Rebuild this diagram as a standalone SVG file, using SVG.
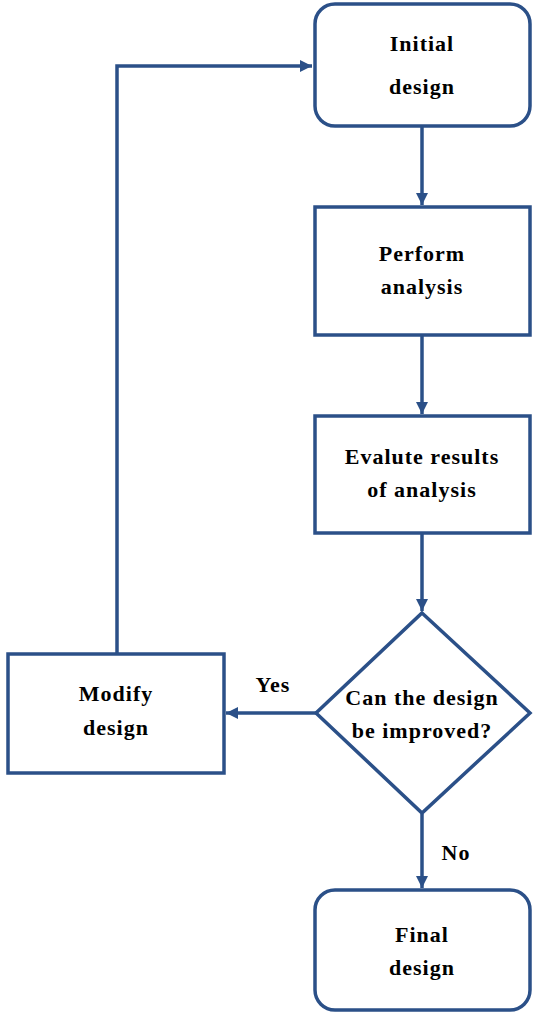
<svg xmlns="http://www.w3.org/2000/svg" width="533" height="1014" viewBox="0 0 533 1014">
<style>
.n{fill:#fff;stroke:#2b5088;stroke-width:3.5}
.c{fill:none;stroke:#2b5088;stroke-width:3.5}
text{font-family:"Liberation Serif","Times New Roman",serif;font-weight:bold;font-size:22px;fill:#000;text-anchor:middle;letter-spacing:1px}
</style>
<defs>
<marker id="a" viewBox="0 0 10 10" refX="10" refY="5" markerWidth="12" markerHeight="13" markerUnits="userSpaceOnUse" orient="auto">
<path d="M0,0L10,5L0,10z" fill="#2b5088"/>
</marker>
</defs>
<g id="connectors">
<path class="c" d="M422,127V205" marker-end="url(#a)"/>
<path class="c" d="M422,335V414" marker-end="url(#a)"/>
<path class="c" d="M422,533V611" marker-end="url(#a)"/>
<path class="c" d="M316,713H226" marker-end="url(#a)"/>
<path class="c" d="M117,653V66H312" marker-end="url(#a)"/>
<path class="c" d="M422,814V888" marker-end="url(#a)"/>
<text x="273" y="692">Yes</text>
<text x="456" y="860">No</text>
</g>
<g id="initial">
<rect class="n" x="315" y="4" width="215" height="122" rx="20"/>
<text x="422" y="51">Initial</text>
<text x="422" y="94">design</text>
</g>
<g id="perform">
<rect class="n" x="315" y="207" width="215" height="128"/>
<text x="422" y="261">Perform</text>
<text x="422" y="294">analysis</text>
</g>
<g id="evaluate">
<rect class="n" x="315" y="416" width="215" height="117"/>
<text x="422" y="464">Evalute results</text>
<text x="422" y="497">of analysis</text>
</g>
<g id="decision">
<path class="n" d="M422,613L530,713L422,813L316,713z"/>
<text x="422" y="705">Can the design</text>
<text x="422" y="738">be improved?</text>
</g>
<g id="modify">
<rect class="n" x="8" y="654" width="216" height="119"/>
<text x="116" y="701">Modify</text>
<text x="116" y="735">design</text>
</g>
<g id="final">
<rect class="n" x="315" y="890" width="215" height="120" rx="20"/>
<text x="422" y="942">Final</text>
<text x="422" y="975">design</text>
</g>
</svg>
